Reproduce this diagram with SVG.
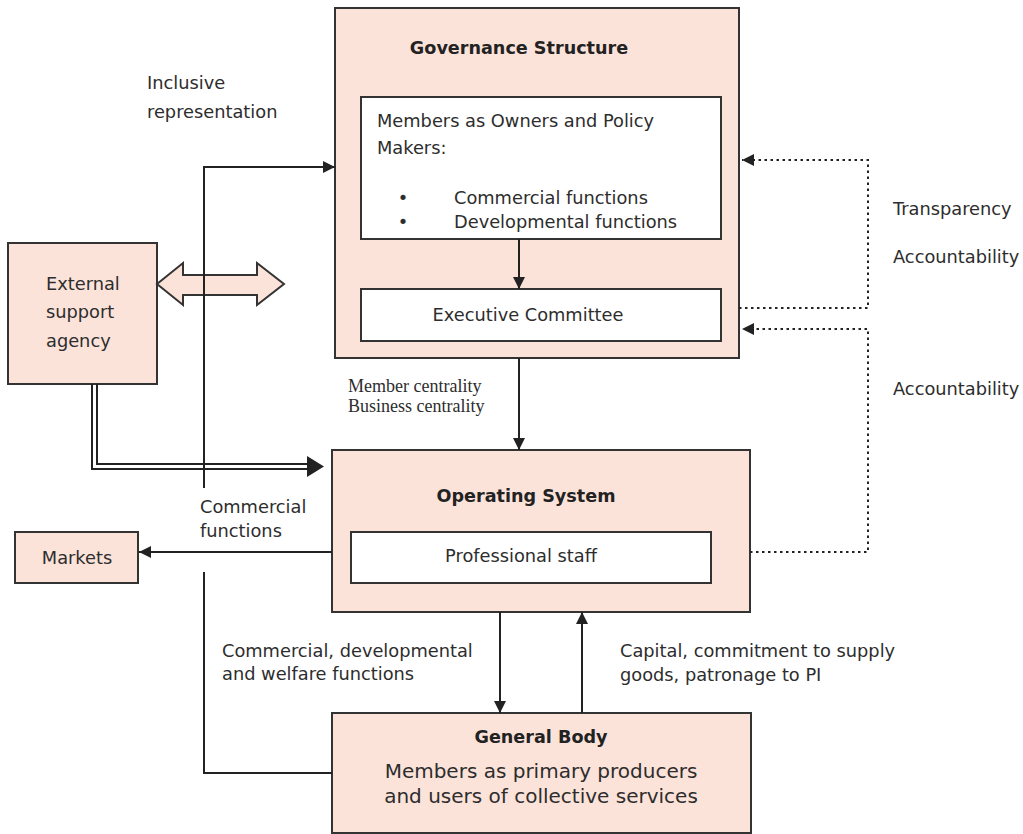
<svg xmlns="http://www.w3.org/2000/svg" width="1023" height="834" viewBox="0 0 1023 834">
  <defs>
    <marker id="ah" viewBox="0 0 12 12" refX="12" refY="6" markerWidth="12" markerHeight="12" markerUnits="userSpaceOnUse" orient="auto">
      <path d="M0,0 L12,6 L0,12 z" fill="#222"/>
    </marker>
    <style>
      .box { fill: #fce3da; stroke: #333; stroke-width: 2; }
      .inner { fill: #ffffff; stroke: #333; stroke-width: 2; }
      .t { font-family: "DejaVu Sans", Verdana, sans-serif; font-size: 17.8px; fill: #2d2d2d; }
      .b { font-family: "DejaVu Sans", Verdana, sans-serif; font-size: 17.6px; font-weight: bold; fill: #222; }
      .big { font-family: "DejaVu Sans", Verdana, sans-serif; font-size: 20px; fill: #2d2d2d; }
      .serif { font-family: "Liberation Serif", "Times New Roman", serif; font-size: 18px; fill: #2d2d2d; }
      .ln { fill: none; stroke: #222; stroke-width: 2; }
      .dot { fill: none; stroke: #222; stroke-width: 2; stroke-dasharray: 2.5 3.5; }
    </style>
  </defs>
  <rect width="1023" height="834" fill="#ffffff"/>

  <!-- Governance structure -->
  <g id="governance">
    <rect class="box" x="335" y="8" width="404" height="350"/>
    <text class="b" x="519" y="54" text-anchor="middle">Governance Structure</text>
  </g>
  <g id="members-owners">
    <rect class="inner" x="361" y="97" width="360" height="142"/>
    <text class="t" x="377" y="127">Members as Owners and Policy</text>
    <text class="t" x="377" y="154">Makers:</text>
    <text class="t" x="403" y="204" text-anchor="middle">•</text>
    <text class="t" x="454" y="204">Commercial functions</text>
    <text class="t" x="403" y="228" text-anchor="middle">•</text>
    <text class="t" x="454" y="228">Developmental functions</text>
  </g>
  <g id="executive-committee">
    <rect class="inner" x="361" y="289" width="360" height="52"/>
    <text class="t" x="528" y="321" text-anchor="middle">Executive Committee</text>
  </g>

  <!-- Operating system -->
  <g id="operating-system">
    <rect class="box" x="332" y="450" width="418" height="162"/>
    <text class="b" x="526" y="502" text-anchor="middle">Operating System</text>
  </g>
  <g id="professional-staff">
    <rect class="inner" x="351" y="532" width="360" height="51"/>
    <text class="t" x="521" y="562" text-anchor="middle">Professional staff</text>
  </g>

  <!-- General body -->
  <g id="general-body">
    <rect class="box" x="332" y="713" width="419" height="120"/>
    <text class="b" x="541" y="743" text-anchor="middle">General Body</text>
    <text class="big" x="541" y="778" text-anchor="middle">Members as primary producers</text>
    <text class="big" x="541" y="803" text-anchor="middle">and users of collective services</text>
  </g>

  <!-- Side boxes -->
  <g id="external-agency">
    <rect class="box" x="8" y="243" width="149" height="141"/>
    <text class="t" x="46" y="290">External</text>
    <text class="t" x="46" y="318">support</text>
    <text class="t" x="46" y="347">agency</text>
  </g>
  <g id="markets">
    <rect class="box" x="15" y="532" width="123" height="51"/>
    <text class="t" x="77" y="564" text-anchor="middle">Markets</text>
  </g>

  <!-- Connectors -->
  <g id="connectors">
    <!-- two-way link between agency and governance -->
    <polygon points="157,284 183,263 183,275 257,275 257,263 284,284 257,305 257,295 183,295 183,305" fill="#fce3da" stroke="#333" stroke-width="2" stroke-linejoin="miter"/>

    <!-- double-line support arrow into operating system -->
    <path class="ln" d="M92,384 V469 H308" stroke-width="1.8"/>
    <path class="ln" d="M97,384 V464 H308" stroke-width="1.8"/>
    <polygon points="307,456 324,466.5 307,477" fill="#222"/>

    <!-- inclusive representation -->
    <path class="ln" d="M204,488 V167 H335" marker-end="url(#ah)"/>

    <!-- governance internals and downward flow -->
    <path class="ln" d="M519,239 V289" marker-end="url(#ah)"/>
    <path class="ln" d="M519,358 V450" marker-end="url(#ah)"/>

    <!-- commercial functions to markets -->
    <path class="ln" d="M332,552 H139" marker-end="url(#ah)"/>

    <!-- general body back to the left trunk -->
    <path class="ln" d="M204,572 V773 H332"/>

    <!-- operating system / general body exchange -->
    <path class="ln" d="M500,612 V713" marker-end="url(#ah)"/>
    <path class="ln" d="M582,713 V612" marker-end="url(#ah)"/>

    <!-- transparency and accountability loops -->
    <path class="dot" d="M739,308 H868 V160 H742" marker-end="url(#ah)"/>
    <path class="dot" d="M750,552 H868 V329 H742" marker-end="url(#ah)"/>
  </g>

  <!-- Connector labels -->
  <g id="labels">
    <text class="t" x="147" y="89">Inclusive</text>
    <text class="t" x="147" y="118">representation</text>
    <text class="serif" x="348" y="392">Member centrality</text>
    <text class="serif" x="348" y="412">Business centrality</text>
    <text class="t" x="200" y="513">Commercial</text>
    <text class="t" x="200" y="537">functions</text>
    <text class="t" x="222" y="657">Commercial, developmental</text>
    <text class="t" x="222" y="680">and welfare functions</text>
    <text class="t" x="620" y="657">Capital, commitment to supply</text>
    <text class="t" x="620" y="681">goods, patronage to PI</text>
    <text class="t" x="893" y="215">Transparency</text>
    <text class="t" x="893" y="263">Accountability</text>
    <text class="t" x="893" y="395">Accountability</text>
  </g>
</svg>
